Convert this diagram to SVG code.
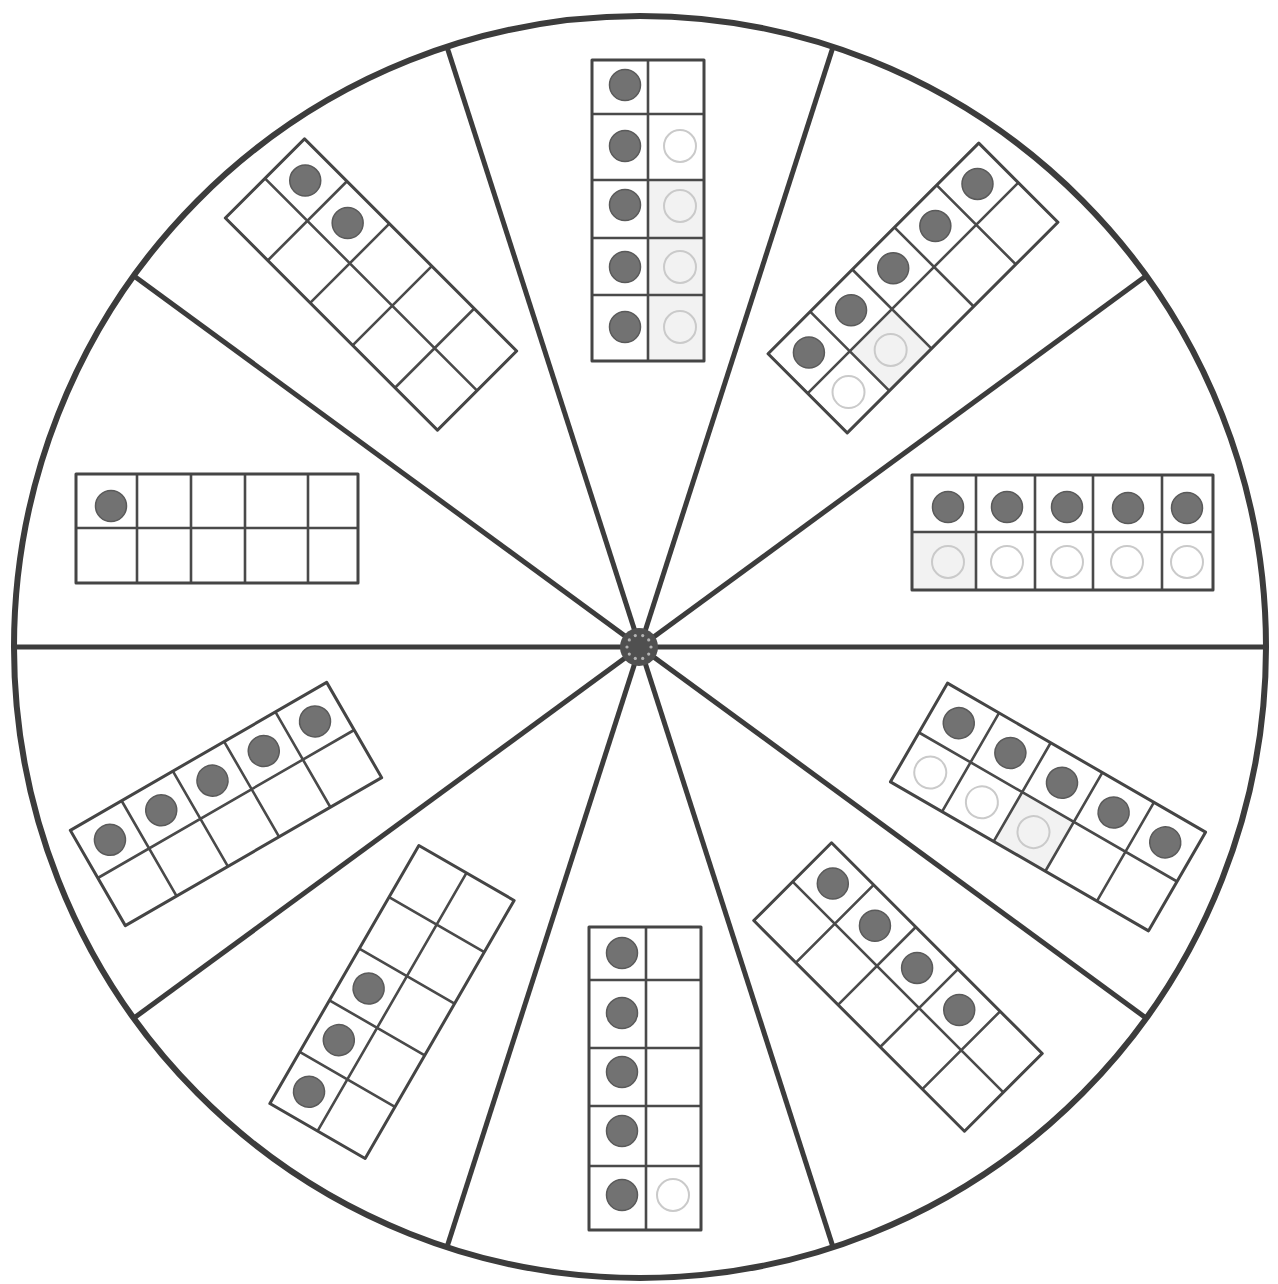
<svg xmlns="http://www.w3.org/2000/svg" width="1278" height="1284" viewBox="0 0 1278 1284">
<style>
.rim{fill:none;stroke:#3c3c3c;stroke-width:6}
.spoke{stroke:#3c3c3c;stroke-width:5;stroke-linecap:butt}
.fo{fill:none;stroke:#454545;stroke-width:3;stroke-linejoin:round}
.fi{fill:none;stroke:#4a4a4a;stroke-width:2.6}
.dot{fill:#727272;stroke:#5a5a5a;stroke-width:1.5}
.ghost{fill:none;stroke:#cacaca;stroke-width:2}
.shade{fill:#f2f2f2}
.hubc{fill:#505050}
.hubd{fill:#b4b4b4}
</style>
<rect x="0" y="0" width="1278" height="1284" fill="#ffffff"/>
<g id="wheel">
<ellipse class="rim" cx="640" cy="647" rx="626" ry="631"/>
</g>
<g id="spokes">
<line class="spoke" x1="640" y1="647" x2="1266" y2="647"/>
<line class="spoke" x1="640" y1="647" x2="1146" y2="276"/>
<line class="spoke" x1="640" y1="647" x2="833" y2="47"/>
<line class="spoke" x1="640" y1="647" x2="447" y2="47"/>
<line class="spoke" x1="640" y1="647" x2="134" y2="276"/>
<line class="spoke" x1="640" y1="647" x2="14" y2="647"/>
<line class="spoke" x1="640" y1="647" x2="134" y2="1018"/>
<line class="spoke" x1="640" y1="647" x2="447" y2="1247"/>
<line class="spoke" x1="640" y1="647" x2="833" y2="1247"/>
<line class="spoke" x1="640" y1="647" x2="1146" y2="1018"/>
</g>
<g id="hub" transform="translate(639 647)">
<circle class="hubc" r="19"/>
<circle class="hubd" cx="12" cy="0" r="1.6"/>
<circle class="hubd" cx="9.7" cy="7.1" r="1.6"/>
<circle class="hubd" cx="3.7" cy="11.4" r="1.6"/>
<circle class="hubd" cx="-3.7" cy="11.4" r="1.6"/>
<circle class="hubd" cx="-9.7" cy="7.1" r="1.6"/>
<circle class="hubd" cx="-12" cy="0" r="1.6"/>
<circle class="hubd" cx="-9.7" cy="-7.1" r="1.6"/>
<circle class="hubd" cx="-3.7" cy="-11.4" r="1.6"/>
<circle class="hubd" cx="3.7" cy="-11.4" r="1.6"/>
<circle class="hubd" cx="9.7" cy="-7.1" r="1.6"/>
</g>
<g id="frame-top">
<rect class="shade" x="648" y="180" width="56" height="181"/>
<circle class="ghost" cx="680" cy="146" r="16"/>
<circle class="ghost" cx="680" cy="206" r="16"/>
<circle class="ghost" cx="680" cy="267" r="16"/>
<circle class="ghost" cx="680" cy="327" r="16"/>
<path class="fi" d="M648 60V361M592 114H704M592 180H704M592 238H704M592 295H704"/>
<rect class="fo" x="592" y="60" width="112" height="301"/>
<circle class="dot" cx="625" cy="85" r="15.5"/>
<circle class="dot" cx="625" cy="146" r="15.5"/>
<circle class="dot" cx="625" cy="205" r="15.5"/>
<circle class="dot" cx="625" cy="267" r="15.5"/>
<circle class="dot" cx="625" cy="327" r="15.5"/>
</g>
<g id="frame-upper-right" transform="translate(913 288) rotate(-45)">
<rect class="shade" x="-89.4" y="0" width="59.6" height="56"/>
<circle class="ghost" cx="-119.2" cy="28" r="16"/>
<circle class="ghost" cx="-59.6" cy="28" r="16"/>
<path class="fi" d="M-149 0H149M-89.4 -56V56M-29.8 -56V56M29.8 -56V56M89.4 -56V56"/>
<rect class="fo" x="-149" y="-56" width="298" height="112"/>
<circle class="dot" cx="-119.2" cy="-28" r="15.5"/>
<circle class="dot" cx="-59.6" cy="-28" r="15.5"/>
<circle class="dot" cx="0" cy="-28" r="15.5"/>
<circle class="dot" cx="59.6" cy="-28" r="15.5"/>
<circle class="dot" cx="119.2" cy="-28" r="15.5"/>
</g>
<g id="frame-right">
<rect class="shade" x="912" y="532" width="64" height="58"/>
<circle class="ghost" cx="948" cy="562" r="16"/>
<circle class="ghost" cx="1007" cy="562" r="16"/>
<circle class="ghost" cx="1067" cy="562" r="16"/>
<circle class="ghost" cx="1127" cy="562" r="16"/>
<circle class="ghost" cx="1187" cy="562" r="16"/>
<path class="fi" d="M912 532H1213M976 475V590M1035 475V590M1093 475V590M1162 475V590"/>
<rect class="fo" x="912" y="475" width="301" height="115"/>
<circle class="dot" cx="948" cy="507" r="15.5"/>
<circle class="dot" cx="1007" cy="507" r="15.5"/>
<circle class="dot" cx="1067" cy="507" r="15.5"/>
<circle class="dot" cx="1128" cy="508" r="15.5"/>
<circle class="dot" cx="1187" cy="508" r="15.5"/>
</g>
<g id="frame-lower-right" transform="translate(1048 807) rotate(30)">
<rect class="shade" x="-29.8" y="0" width="59.6" height="57"/>
<circle class="ghost" cx="-119.2" cy="29" r="16"/>
<circle class="ghost" cx="-59.6" cy="29" r="16"/>
<circle class="ghost" cx="0" cy="29" r="16"/>
<path class="fi" d="M-149 0H149M-89.4 -57V57M-29.8 -57V57M29.8 -57V57M89.4 -57V57"/>
<rect class="fo" x="-149" y="-57" width="298" height="114"/>
<circle class="dot" cx="-119.2" cy="-28" r="15.5"/>
<circle class="dot" cx="-59.6" cy="-28" r="15.5"/>
<circle class="dot" cx="0" cy="-28" r="15.5"/>
<circle class="dot" cx="59.6" cy="-28" r="15.5"/>
<circle class="dot" cx="119.2" cy="-28" r="15.5"/>
</g>
<g id="frame-lower-right-2" transform="translate(898 987) rotate(45)">
<path class="fi" d="M-149 0H149M-89.4 -55V55M-29.8 -55V55M29.8 -55V55M89.4 -55V55"/>
<rect class="fo" x="-149" y="-55" width="298" height="110"/>
<circle class="dot" cx="-119.2" cy="-27" r="15.5"/>
<circle class="dot" cx="-59.6" cy="-27" r="15.5"/>
<circle class="dot" cx="0" cy="-27" r="15.5"/>
<circle class="dot" cx="59.6" cy="-27" r="15.5"/>
</g>
<g id="frame-bottom">
<circle class="ghost" cx="673" cy="1195" r="16"/>
<path class="fi" d="M646 927V1230M589 980H701M589 1048H701M589 1106H701M589 1166H701"/>
<rect class="fo" x="589" y="927" width="112" height="303"/>
<circle class="dot" cx="622" cy="953" r="15.5"/>
<circle class="dot" cx="622" cy="1013" r="15.5"/>
<circle class="dot" cx="622" cy="1072" r="15.5"/>
<circle class="dot" cx="622" cy="1131" r="15.5"/>
<circle class="dot" cx="622" cy="1195" r="15.5"/>
</g>
<g id="frame-lower-left-2" transform="translate(392 1002) rotate(-60)">
<path class="fi" d="M-149 0H149M-89.4 -55V55M-29.8 -55V55M29.8 -55V55M89.4 -55V55"/>
<rect class="fo" x="-149" y="-55" width="298" height="110"/>
<circle class="dot" cx="-119.2" cy="-27" r="15.5"/>
<circle class="dot" cx="-59.6" cy="-27" r="15.5"/>
<circle class="dot" cx="0" cy="-27" r="15.5"/>
</g>
<g id="frame-lower-left" transform="translate(226 804) rotate(-30)">
<path class="fi" d="M-148 0H148M-88.8 -55V55M-29.6 -55V55M29.6 -55V55M88.8 -55V55"/>
<rect class="fo" x="-148" y="-55" width="296" height="110"/>
<circle class="dot" cx="-118.4" cy="-27" r="15.5"/>
<circle class="dot" cx="-59.2" cy="-27" r="15.5"/>
<circle class="dot" cx="0" cy="-27" r="15.5"/>
<circle class="dot" cx="59.2" cy="-27" r="15.5"/>
<circle class="dot" cx="118.4" cy="-27" r="15.5"/>
</g>
<g id="frame-left">
<path class="fi" d="M76 528H358M137 474V583M191 474V583M245 474V583M308 474V583"/>
<rect class="fo" x="76" y="474" width="282" height="109"/>
<circle class="dot" cx="111" cy="506" r="15.5"/>
</g>
<g id="frame-upper-left" transform="translate(371 284.5) rotate(45)">
<path class="fi" d="M-150 0H150M-90 -56V56M-30 -56V56M30 -56V56M90 -56V56"/>
<rect class="fo" x="-150" y="-56" width="300" height="112"/>
<circle class="dot" cx="-120" cy="-27" r="15.5"/>
<circle class="dot" cx="-60" cy="-27" r="15.5"/>
</g>
</svg>
